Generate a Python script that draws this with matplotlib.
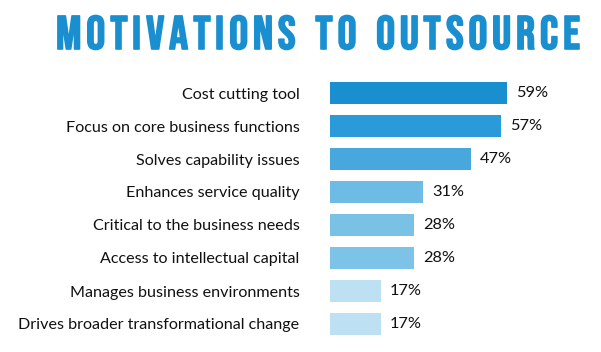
import matplotlib
matplotlib.use("Agg")
import matplotlib.pyplot as plt
import matplotlib.patheffects as pe

labels = ["Cost cutting tool",
          "Focus on core business functions",
          "Solves capability issues",
          "Enhances service quality",
          "Critical to the business needs",
          "Access to intellectual capital",
          "Manages business environments",
          "Drives broader transformational change"]
values = [59, 57, 47, 31, 28, 28, 17, 17]
colors = ["#1a8fd0", "#2b9ad8", "#48a8dd", "#6ebce5", "#7ac1e6", "#7dc2e7", "#bde0f2", "#bde0f2"]
title = "MOTIVATIONS TO OUTSOURCE"

body_font = ["Lato", "DejaVu Sans"]
title_font = ["Bebas Neue", "Oswald", "Roboto Condensed", "DejaVu Sans"]

fig = plt.figure(figsize=(6.01, 3.52), dpi=100)
ax = fig.add_axes([330 / 601, 11.5 / 352, 270 / 601, 264 / 352])

ypos = list(range(len(values)))
ax.barh(ypos, values, height=0.64, color=colors)
ax.set_xlim(0, 90)
ax.set_ylim(len(values) - 0.5, -0.5)

for y, v in zip(ypos, values):
    ax.text(v + 3, y, "%d%%" % v, va="center", ha="left",
            fontsize=11.8, family=body_font, color="#111111")

ax.set_yticks(ypos)
ax.set_yticklabels(labels, fontsize=11.6, family=body_font, color="#111111")
ax.tick_params(axis="y", length=0, pad=22)
ax.set_xticks([])
for s in ax.spines.values():
    s.set_visible(False)

# title: letters placed one by one to get the wide tracking
renderer = fig.canvas.get_renderer()
x0, x1 = 56, 580
chars = []
widths = []
for ch in title:
    t = fig.text(0, 1 - 32 / 352, ch, ha="left", va="center",
                 fontsize=34, family=title_font, color="#1a8fd0",
                 path_effects=[pe.withStroke(linewidth=1.2, foreground="#1a8fd0")])
    w = t.get_window_extent(renderer).width if ch != " " else 0
    chars.append(t)
    widths.append(w)
space_w = 10
total = sum(widths) + space_w * title.count(" ")
track = (x1 - x0 - total) / (len(title) - 1)
x = x0
for t, ch, w in zip(chars, title, widths):
    t.set_x(x / 601)
    x += (space_w if ch == " " else w) + track

fig.savefig("out.png", dpi=100)
